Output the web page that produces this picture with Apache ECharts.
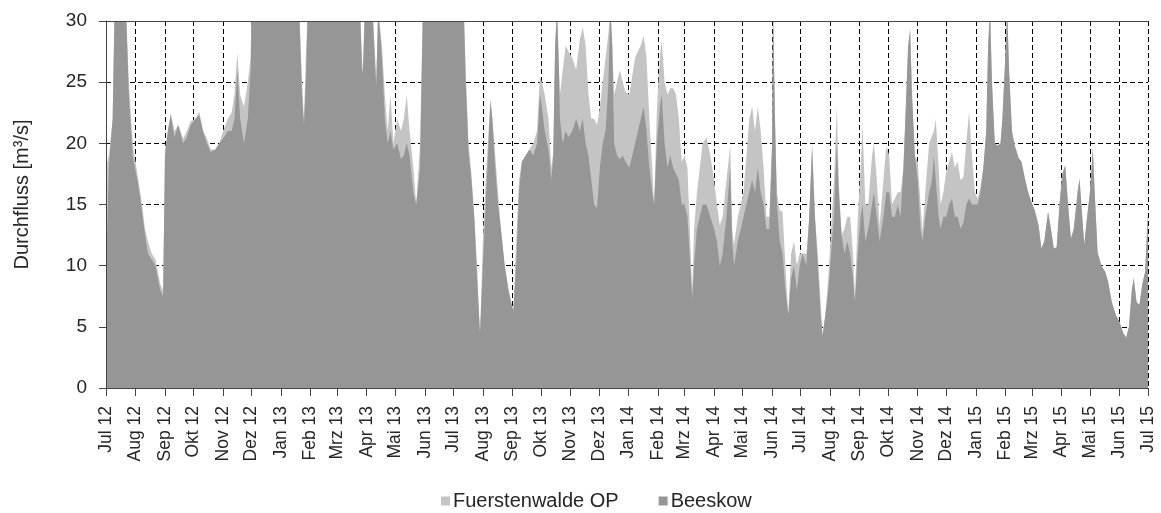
<!DOCTYPE html>
<html>
<head>
<meta charset="utf-8">
<script src="https://cdn.jsdelivr.net/npm/echarts@6/dist/echarts.min.js"></script>
<style>
  html, body { margin: 0; padding: 0; background: #fff; }
  #chart { width: 1161px; height: 513px; }
</style>
</head>
<body>
<div id="chart"></div>
<script>
// Abflussganglinien Jul 12 - Jul 15
const dates = [
  '2012-07-01','2012-07-04','2012-07-08','2012-07-10','2012-07-22','2012-07-25','2012-07-29',
  '2012-08-03','2012-08-07','2012-08-11','2012-08-14','2012-08-18','2012-08-22','2012-08-27','2012-08-30',
  '2012-09-01','2012-09-04','2012-09-07','2012-09-11','2012-09-15','2012-09-20','2012-09-24','2012-09-28',
  '2012-10-03','2012-10-07','2012-10-11','2012-10-15','2012-10-19','2012-10-24','2012-10-28',
  '2012-11-02','2012-11-06','2012-11-10','2012-11-13','2012-11-16','2012-11-19','2012-11-23','2012-11-27','2012-11-30',
  '2012-12-01',
  '2013-01-20','2013-01-23','2013-01-25','2013-01-27','2013-01-29',
  '2013-03-25','2013-03-27','2013-03-28','2013-03-30',
  '2013-04-07','2013-04-10','2013-04-11','2013-04-13','2013-04-17','2013-04-20','2013-04-23','2013-04-26','2013-04-29',
  '2013-05-03','2013-05-07','2013-05-10','2013-05-13','2013-05-16','2013-05-20','2013-05-23','2013-05-27','2013-05-30',
  '2013-07-12','2013-07-14','2013-07-17','2013-07-20','2013-07-23','2013-07-26','2013-07-29',
  '2013-08-01','2013-08-04','2013-08-07','2013-08-09','2013-08-11','2013-08-14','2013-08-17','2013-08-20','2013-08-24','2013-08-28',
  '2013-09-02','2013-09-05','2013-09-08','2013-09-11','2013-09-15','2013-09-19','2013-09-23','2013-09-27','2013-09-30',
  '2013-10-02','2013-10-05','2013-10-09','2013-10-12','2013-10-14','2013-10-16','2013-10-18','2013-10-20','2013-10-21','2013-10-24','2013-10-27','2013-10-30',
  '2013-11-03','2013-11-07','2013-11-11','2013-11-14','2013-11-17','2013-11-20','2013-11-23','2013-11-26','2013-11-29',
  '2013-12-02','2013-12-05','2013-12-08','2013-12-11','2013-12-13','2013-12-15','2013-12-17','2013-12-20','2013-12-23','2013-12-26','2013-12-29',
  '2014-01-02','2014-01-05','2014-01-08','2014-01-11','2014-01-14','2014-01-17','2014-01-20','2014-01-23','2014-01-26','2014-01-28','2014-01-31',
  '2014-02-03','2014-02-05','2014-02-08','2014-02-11','2014-02-14','2014-02-17','2014-02-20','2014-02-23','2014-02-26',
  '2014-03-01','2014-03-04','2014-03-07','2014-03-09','2014-03-11','2014-03-14','2014-03-17','2014-03-20','2014-03-24','2014-03-28',
  '2014-04-01','2014-04-04','2014-04-07','2014-04-10','2014-04-14','2014-04-18','2014-04-20','2014-04-22','2014-04-26','2014-04-29',
  '2014-05-02','2014-05-05','2014-05-08','2014-05-11','2014-05-14','2014-05-17','2014-05-20','2014-05-23','2014-05-26','2014-05-29',
  '2014-06-01','2014-06-02','2014-06-04','2014-06-06','2014-06-09','2014-06-12','2014-06-15','2014-06-18','2014-06-21','2014-06-24','2014-06-27','2014-06-30',
  '2014-07-03','2014-07-07','2014-07-10','2014-07-13','2014-07-16','2014-07-19','2014-07-22','2014-07-24','2014-07-27','2014-07-30',
  '2014-08-02','2014-08-05','2014-08-08','2014-08-10','2014-08-13','2014-08-16','2014-08-19','2014-08-22','2014-08-25','2014-08-27','2014-08-30',
  '2014-09-02','2014-09-04','2014-09-07','2014-09-10','2014-09-14','2014-09-16','2014-09-19','2014-09-22','2014-09-26','2014-09-29',
  '2014-10-02','2014-10-05','2014-10-08','2014-10-11','2014-10-14','2014-10-17','2014-10-20','2014-10-22','2014-10-24','2014-10-26','2014-10-29',
  '2014-11-01','2014-11-04','2014-11-06','2014-11-09','2014-11-13','2014-11-16','2014-11-18','2014-11-20','2014-11-23','2014-11-25','2014-11-28',
  '2014-12-01','2014-12-04','2014-12-07','2014-12-10','2014-12-13','2014-12-16','2014-12-19','2014-12-22','2014-12-25','2014-12-28','2014-12-31',
  '2015-01-03','2015-01-06','2015-01-09','2015-01-12','2015-01-14','2015-01-16','2015-01-18','2015-01-21','2015-01-24','2015-01-27','2015-01-29',
  '2015-02-01','2015-02-03','2015-02-05','2015-02-08','2015-02-11','2015-02-15','2015-02-18','2015-02-22','2015-02-25','2015-02-28',
  '2015-03-04','2015-03-08','2015-03-11','2015-03-14','2015-03-18','2015-03-21','2015-03-24','2015-03-27','2015-03-30',
  '2015-04-02','2015-04-05','2015-04-08','2015-04-11','2015-04-14','2015-04-18','2015-04-20','2015-04-22','2015-04-25','2015-04-28',
  '2015-05-01','2015-05-04','2015-05-06','2015-05-09','2015-05-13','2015-05-17','2015-05-20','2015-05-24','2015-05-28',
  '2015-06-01','2015-06-05','2015-06-08','2015-06-11','2015-06-14','2015-06-16','2015-06-19','2015-06-22','2015-06-25','2015-06-28',
  '2015-07-01'
];

const beeskow = [
  9, 18, 22, 31, 31, 24, 19,
  17, 15, 12.5, 11, 10.5, 10, 8, 7.5,
  19, 21, 22.3, 20.5, 21.5, 20, 20.5, 21.5,
  22, 22.3, 21, 20, 19.3, 19.5, 20,
  20.5, 21, 21, 22, 26, 22, 20, 22, 26,
  31,
  31, 24, 21.5, 25, 31,
  31, 26, 25.8, 31,
  31, 26, 24.7, 31, 27, 22, 20, 21, 19.5,
  20, 18.7, 19, 20, 19, 16, 15, 18, 31,
  31, 25, 19.3, 17, 14, 9, 4.5,
  10, 15, 20, 23.5, 22, 18, 15, 13, 10, 8,
  6.3, 10, 16, 18.5, 19, 19.5, 19, 20, 24,
  23, 21, 19.5, 17, 19, 28, 31, 26, 22, 20, 21, 20.5,
  21, 22, 21, 22, 20, 19, 17, 15, 14.7,
  18, 20, 21, 25, 31, 28, 20, 19, 18.7, 19, 18.5,
  18, 19, 20, 21, 22, 23, 21, 18, 16, 15, 20,
  23, 24, 20, 18, 19, 18, 17.5, 17, 15,
  15, 14, 10, 7.3, 10, 13, 14, 15, 15, 14,
  13, 12, 10, 11, 14, 18, 12, 10, 12, 13,
  14, 15, 16, 17, 16, 18, 16, 15, 13, 13,
  20, 31, 22, 15, 12, 11, 8, 6, 9, 10, 8, 10,
  11, 10, 14, 19.8, 14, 10, 6, 4.3, 6, 8,
  11, 14, 20, 16, 12.5, 11, 12, 11, 9, 7, 11,
  14, 15, 12, 13, 15, 16, 14, 12, 14, 16,
  16, 14, 14, 15, 14, 18, 24, 28, 29.3, 24, 19,
  17, 13, 12, 14, 16, 17, 19, 17, 14, 13, 14,
  14, 15, 15.5, 14, 14, 13, 13.5, 15, 15.5, 15, 15,
  15, 16, 18, 21, 28, 31, 25, 20, 19.8, 20, 22,
  27, 31, 26, 21, 19.8, 18.8, 18.5, 17, 16, 15.3,
  14.5, 13.3, 11.4, 12, 14.4, 13, 11.4, 11.5, 15,
  17.5, 18.2, 15, 12.2, 13, 16, 17.1, 15, 11.7, 14,
  16, 19.6, 16, 11.1, 10, 9.5, 8.7, 7, 6,
  5.4, 4.5, 4.1, 5, 8, 9, 7, 6.8, 8.5, 9.5,
  14.4
];

const fuerstenwalde = [
  18, 19, 22, 31, 31, 25, 20,
  17.5, 15.5, 13, 12, 11, 10.5, 8.5, 8,
  19.5, 21, 22.5, 21, 21.5, 20.4, 21, 21.8,
  22, 22.6, 21, 20.4, 19.5, 19.5, 20,
  21.2, 22, 22.5, 24, 27.4, 24, 23, 25, 27,
  31,
  31, 25, 22, 27, 31,
  31, 27, 26, 31,
  31, 27, 25, 31, 28, 24, 21, 24, 20,
  22, 21, 22, 24, 21, 18, 15, 20, 31,
  31, 26, 20, 17.5, 14, 10, 4,
  12, 17, 21, 23.6, 22, 19, 16, 13, 10, 8,
  6, 12, 17, 18.5, 19, 19.5, 20, 21, 25.5,
  25, 24, 22, 18, 19.3, 28, 31, 26, 24, 26, 28, 27.5,
  27, 26, 28.5, 29.5, 28, 24, 22, 22, 21.5,
  23, 25, 27, 29, 31, 28, 24, 25, 26, 25, 24.2,
  24, 25.5, 27, 27.5, 28, 28.8, 27, 22, 18, 15, 23,
  27, 28.5, 25, 24, 24.5, 24.5, 24, 22, 18.5,
  19, 18, 12, 8, 13, 16, 18, 20, 20.5, 19,
  17, 15, 13.3, 14, 17, 19.8, 13, 11.7, 14, 15,
  16, 19, 22, 23, 21, 23, 21, 18, 14, 14,
  20, 31, 22, 16, 14.5, 14.4, 10, 6, 11, 12, 10, 11,
  11, 11, 14, 19.8, 14, 11, 7, 4.3, 6, 9,
  13, 17, 23, 17, 12.5, 13, 14, 14, 11, 7.5, 14,
  18, 21.5, 15, 15, 19, 20, 17, 13.3, 17, 19.8,
  19, 15, 15.5, 16, 16, 18, 24, 28, 29.3, 24, 19,
  18.5, 15, 12.8, 16, 20, 20.6, 21, 22, 18, 15, 16,
  17.7, 18.5, 19.3, 18, 18.5, 17, 17.2, 20, 22.6, 19, 16,
  15.5, 16.5, 18, 21, 28, 31, 25, 20, 19.8, 20, 22,
  27, 31, 26, 21, 19.8, 18.8, 18.5, 17, 16, 15.3,
  14.5, 13.3, 11.4, 12, 14.4, 13, 11.4, 11.5, 15,
  17.5, 18.2, 15, 12.2, 13, 16, 17.1, 15, 11.7, 14,
  16, 19.6, 16, 11.1, 10, 9.5, 8.7, 7, 6,
  5.4, 4.5, 4.1, 5, 8, 9, 7, 6.8, 8.5, 9.5,
  14.4
];

const monthLabels = ['Jan', 'Feb', 'Mrz', 'Apr', 'Mai', 'Jun', 'Jul', 'Aug', 'Sep', 'Okt', 'Nov', 'Dez'];
const yTicks = { min: 0, max: 30, interval: 5 };
const seriesNames = ['Fuerstenwalde OP', 'Beeskow'];

const font = 'Arial, "Liberation Sans", sans-serif';
const textColor = '#262626';
const gridPos = { left: 106, right: 13, top: 21, bottom: 125 };

const chart = echarts.init(document.getElementById('chart'), null, { renderer: 'canvas' });

function fmtMonth(val) {
  const d = new Date(val);
  return monthLabels[d.getMonth()] + ' ' + String(d.getFullYear()).slice(2);
}

const timeRange = { min: '2012-07-01', max: '2015-07-01', splitNumber: 36 };

const option = {
  animation: false,
  backgroundColor: '#fff',
  textStyle: { fontFamily: font },
  // grid 0: Achsen und Beschriftung (oben), grid 1: gestricheltes Gitter (unten)
  grid: [
    Object.assign({ outerBoundsMode: 'none', containLabel: false }, gridPos),
    Object.assign({ outerBoundsMode: 'none', containLabel: false }, gridPos)
  ],
  legend: {
    data: seriesNames,
    left: 436,
    top: 486,
    icon: 'rect',
    itemWidth: 9,
    itemHeight: 9,
    itemGap: 40,
    textStyle: { fontSize: 20, color: textColor, fontFamily: font, padding: [0, 0, 0, -2] }
  },
  xAxis: [
    {
      gridIndex: 0,
      type: 'time',
      position: 'bottom',
      z: 5,
      ...timeRange,
      axisLine: { show: true, lineStyle: { color: '#444', width: 1 } },
      axisTick: { show: true, length: 8, lineStyle: { color: '#444' } },
      axisLabel: {
        rotate: 90,
        margin: 18,
        fontSize: 17.5,
        color: textColor,
        fontFamily: font,
        hideOverlap: false,
        showMinLabel: true,
        showMaxLabel: true,
        formatter: fmtMonth
      },
      splitLine: { show: false }
    },
    {
      gridIndex: 0,
      type: 'time',
      position: 'top',
      z: 5,
      ...timeRange,
      axisLine: { show: true, lineStyle: { color: '#444', width: 1 } },
      axisTick: { show: false },
      axisLabel: { show: false },
      splitLine: { show: false }
    },
    {
      gridIndex: 1,
      type: 'time',
      position: 'bottom',
      z: 0,
      ...timeRange,
      axisLine: { show: false },
      axisTick: { show: false },
      axisLabel: { show: false },
      splitLine: { show: true, lineStyle: { color: '#000', width: 1, type: [5, 3] } }
    }
  ],
  yAxis: [
    {
      gridIndex: 0,
      type: 'value',
      position: 'left',
      z: 5,
      ...yTicks,
      name: 'Durchfluss [m³/s]',
      nameLocation: 'middle',
      nameRotate: 90,
      nameGap: 74,
      nameTextStyle: { fontSize: 20, color: textColor, fontFamily: font, padding: [0, 0, 0, 20] },
      axisLine: { show: true, lineStyle: { color: '#444', width: 1 } },
      axisTick: { show: true, length: 7, lineStyle: { color: '#444' } },
      axisLabel: { margin: 19, fontSize: 19, color: textColor, fontFamily: font },
      splitLine: { show: false }
    },
    {
      gridIndex: 1,
      type: 'value',
      position: 'left',
      z: 0,
      ...yTicks,
      axisLine: { show: false },
      axisTick: { show: false },
      axisLabel: { show: false },
      splitLine: { show: true, lineStyle: { color: '#000', width: 1, type: [5, 3] } }
    }
  ],
  series: [
    {
      name: seriesNames[0],
      type: 'line',
      xAxisIndex: 0,
      yAxisIndex: 0,
      z: 2,
      showSymbol: false,
      symbol: 'none',
      clip: true,
      lineStyle: { width: 0 },
      itemStyle: { color: '#c4c4c4' },
      areaStyle: { color: '#c4c4c4', opacity: 1 },
      data: dates.map((d, i) => [d, fuerstenwalde[i]])
    },
    {
      name: seriesNames[1],
      type: 'line',
      xAxisIndex: 0,
      yAxisIndex: 0,
      z: 3,
      showSymbol: false,
      symbol: 'none',
      clip: true,
      lineStyle: { width: 0 },
      itemStyle: { color: '#969696' },
      areaStyle: { color: '#969696', opacity: 1 },
      data: dates.map((d, i) => [d, beeskow[i]])
    }
  ]
};

chart.setOption(option);
</script>
</body>
</html>
